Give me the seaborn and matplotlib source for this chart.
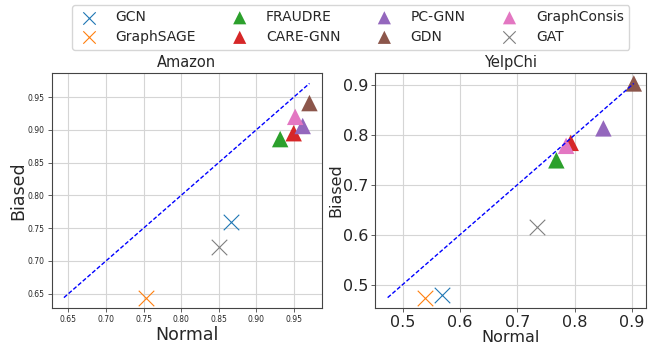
import numpy as np
import pandas as pd
import matplotlib
matplotlib.use("Agg")
import matplotlib.pyplot as plt
import seaborn as sns

methods = ["GCN", "GraphSAGE", "FRAUDRE", "CARE-GNN", "PC-GNN", "GDN", "GraphConsis", "GAT"]
markers = ["x", "x", "^", "^", "^", "^", "^", "x"]

amazon_normal = [0.867, 0.753, 0.932, 0.950, 0.962, 0.971, 0.952, 0.850]
amazon_biased = [0.759, 0.644, 0.886, 0.895, 0.906, 0.941, 0.920, 0.721]

yelp_normal = [0.569, 0.539, 0.768, 0.793, 0.850, 0.903, 0.785, 0.734]
yelp_biased = [0.480, 0.474, 0.749, 0.784, 0.813, 0.903, 0.778, 0.616]

titles = ["Amazon", "YelpChi"]

sns.set_theme(style="ticks")
plt.rcParams['font.family'] = ['DejaVu Sans']

palette = sns.color_palette("tab10", len(methods))

fig = plt.figure(figsize=(6.62, 3.48), dpi=100)
ax1 = fig.add_axes([0.078, 0.114, 0.408, 0.677])
ax2 = fig.add_axes([0.567, 0.114, 0.409, 0.677])

datasets = [(ax1, amazon_normal, amazon_biased), (ax2, yelp_normal, yelp_biased)]

for i, (ax, nx, by) in enumerate(datasets):
    df = pd.DataFrame({"method": methods, "Normal": nx, "Biased": by, "marker": markers})
    lo = min(min(nx), min(by))
    hi = max(max(nx), max(by))
    sns.lineplot(x=[lo, hi], y=[lo, hi], ax=ax, color="blue", linestyle=(0, (3, 1.5)), linewidth=1.0)
    for j, row in df.iterrows():
        if row["marker"] == "x":
            sns.scatterplot(data=df.iloc[[j]], x="Normal", y="Biased", ax=ax,
                            marker="x", color=palette[j], s=125, linewidth=0.8,
                            label=row["method"], legend=False)
        else:
            sns.scatterplot(data=df.iloc[[j]], x="Normal", y="Biased", ax=ax,
                            marker="^", color=palette[j], s=140, linewidth=0,
                            edgecolor="none", label=row["method"], legend=False)
    ax.grid(True, color="#d5d5d5", linewidth=0.8)
    ax.set_axisbelow(True)
    for sp in ax.spines.values():
        sp.set_color("#444444")
        sp.set_linewidth(0.8)
    ax.set_title(titles[i], fontsize=10.5, pad=4)
    lg = ax.get_legend()
    if lg is not None:
        lg.remove()

ax1.set_xticks([0.65, 0.70, 0.75, 0.80, 0.85, 0.90, 0.95])
ax1.set_yticks([0.65, 0.70, 0.75, 0.80, 0.85, 0.90, 0.95])
ax1.tick_params(labelsize=5.5, length=3, width=0.6, color="#444444", pad=2)
ax1.set_xlabel("Normal", fontsize=12.5, labelpad=1)
ax1.set_ylabel("Biased", fontsize=12.5, labelpad=0)

ax2.set_xticks([0.5, 0.6, 0.7, 0.8, 0.9])
ax2.set_yticks([0.5, 0.6, 0.7, 0.8, 0.9])
ax2.tick_params(labelsize=11.5, length=3, width=0.6, color="#444444", pad=2)
ax2.set_xlabel("Normal", fontsize=11.5, labelpad=0)
ax2.set_ylabel("Biased", fontsize=11.5, labelpad=0)

handles, labels = ax1.get_legend_handles_labels()
pairs = [(h, l) for h, l in zip(handles, labels) if l in methods]
fig.legend([p[0] for p in pairs], [p[1] for p in pairs], loc="upper center",
           bbox_to_anchor=(0.530, 1.0), borderaxespad=0.35, ncol=4, fontsize=10,
           frameon=True, markerscale=0.8, handlelength=1.6, handletextpad=1.1,
           columnspacing=2.35, borderpad=0.4, labelspacing=0.4)

fig.savefig("out.png", dpi=100)
